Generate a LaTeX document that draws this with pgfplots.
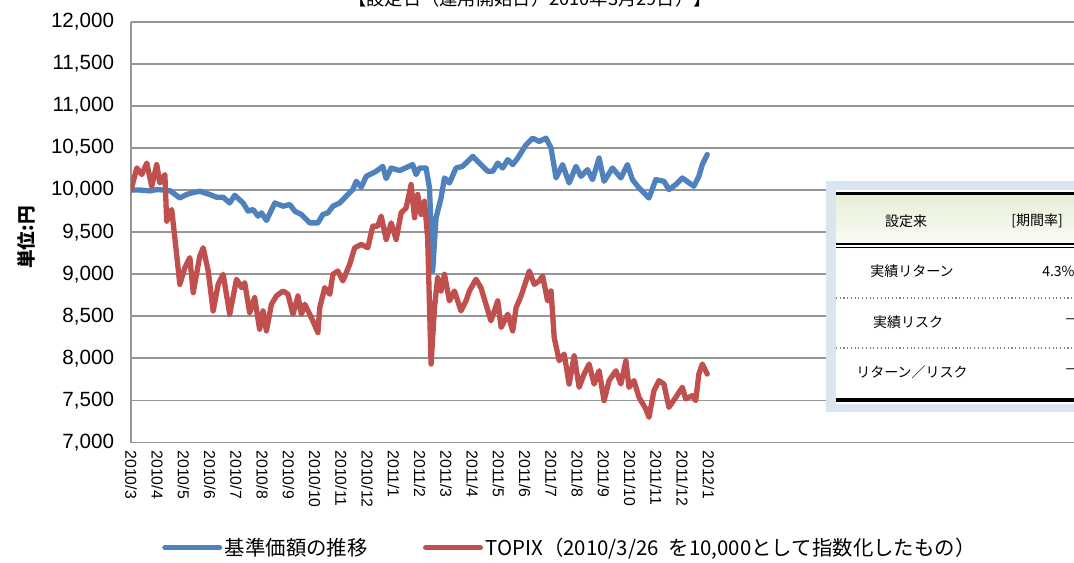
\documentclass[border=0pt]{standalone}
\usepackage{fontspec}
\setmainfont{Liberation Sans}
\newfontfamily\cjk{Noto Sans CJK JP}
\usepackage{pgfplots}
\pgfplotsset{compat=1.18}
\usepackage{pgfplotstable}

\definecolor{navblue}{RGB}{79,129,189}
\definecolor{topixred}{RGB}{192,80,77}
\definecolor{gridgray}{RGB}{150,150,150}
\definecolor{tblblue}{RGB}{219,229,241}
\definecolor{hdrtop}{RGB}{231,239,215}
\definecolor{hdrbot}{RGB}{249,251,244}

\pgfplotstableread{
m v
0.00 10000
0.34 10000
0.72 9990
0.98 10006
1.48 9994
1.86 9906
2.12 9947
2.31 9966
2.62 9986
3.00 9947
3.26 9915
3.51 9915
3.76 9847
3.95 9938
4.27 9847
4.46 9749
4.65 9769
4.84 9690
4.97 9729
5.16 9639
5.48 9847
5.79 9808
6.05 9828
6.24 9749
6.49 9710
6.81 9610
7.12 9610
7.31 9710
7.50 9729
7.69 9808
7.95 9847
8.20 9927
8.45 10006
8.58 10104
8.77 10033
8.96 10163
9.34 10223
9.59 10282
9.72 10136
9.91 10262
10.23 10231
10.73 10302
10.86 10184
10.99 10262
11.24 10262
11.37 10025
11.49 9038
11.62 9670
11.81 9906
11.94 10144
12.13 10084
12.38 10262
12.63 10282
13.02 10400
13.33 10302
13.59 10223
13.78 10223
13.97 10321
14.16 10262
14.35 10361
14.54 10302
14.73 10380
15.05 10539
15.30 10617
15.55 10578
15.81 10617
16.00 10499
16.19 10144
16.44 10302
16.69 10084
16.95 10282
17.14 10163
17.39 10243
17.58 10124
17.83 10380
18.02 10104
18.34 10262
18.66 10144
18.91 10302
19.10 10124
19.35 10025
19.73 9906
19.99 10124
20.30 10104
20.49 10006
20.75 10065
21.00 10144
21.44 10045
21.63 10163
21.76 10302
21.95 10421
}\navdata

\pgfplotstableread{
m v
0.00 10000
0.22 10262
0.41 10184
0.60 10321
0.79 10045
0.98 10302
1.10 10084
1.29 10184
1.36 9630
1.55 9769
1.67 9433
1.86 8880
2.05 9077
2.24 9196
2.37 8781
2.62 9216
2.75 9314
2.94 9038
3.13 8564
3.32 8880
3.51 8999
3.76 8525
4.02 8940
4.21 8840
4.33 8899
4.52 8544
4.71 8722
4.90 8347
5.03 8564
5.16 8327
5.35 8643
5.54 8742
5.79 8801
5.98 8762
6.17 8525
6.36 8742
6.49 8525
6.62 8643
6.87 8485
7.12 8307
7.19 8603
7.38 8840
7.57 8762
7.69 8999
7.88 9038
8.07 8920
8.33 9117
8.52 9314
8.77 9354
9.02 9314
9.21 9571
9.40 9571
9.53 9690
9.72 9413
9.91 9610
10.10 9413
10.29 9729
10.48 9788
10.67 10065
10.80 9670
10.92 9947
11.05 9710
11.18 9867
11.30 9433
11.43 7933
11.56 8603
11.68 8959
11.81 8801
11.94 8999
12.13 8683
12.32 8801
12.57 8564
12.76 8683
12.89 8801
13.14 8940
13.33 8840
13.52 8643
13.71 8446
13.97 8683
14.10 8367
14.35 8525
14.54 8327
14.67 8603
14.86 8742
15.17 9038
15.36 8880
15.55 8920
15.68 8979
15.87 8683
16.00 8801
16.12 8248
16.31 7972
16.50 8051
16.69 7695
16.88 8031
17.07 7656
17.26 7814
17.45 7933
17.64 7695
17.83 7853
18.02 7498
18.21 7735
18.47 7853
18.66 7695
18.85 7972
18.97 7656
19.16 7735
19.35 7537
19.61 7399
19.73 7300
19.92 7616
20.11 7735
20.30 7695
20.49 7418
20.75 7537
21.00 7656
21.13 7518
21.38 7557
21.51 7498
21.63 7814
21.76 7933
21.95 7814
}\topixdata

\begin{document}
\begin{tikzpicture}
\useasboundingbox (0,0) rectangle (805.5pt,-422.25pt);
\clip (0,0) rectangle (805.5pt,-422.25pt);
\begin{axis}[
  at={(98.25pt,-331.9pt)}, anchor=south west,
  scale only axis, width=707.25pt, height=315.6pt,
  xmin=0, xmax=35.92, ymin=7000, ymax=12000,
  ytick={7000,7500,...,12000},
  xtick={0,...,22},
  xticklabels={2010/3,2010/4,2010/5,2010/6,2010/7,2010/8,2010/9,2010/10,2010/11,2010/12,2011/1,2011/2,2011/3,2011/4,2011/5,2011/6,2011/7,2011/8,2011/9,2011/10,2011/11,2011/12,2012/1},
  scaled y ticks=false,
  /pgf/number format/1000 sep={,},
  /pgf/number format/assume math mode=true,
  ymajorgrids, grid style={gridgray, line width=1.4pt},
  axis line style={draw=none},
  major tick length=0pt,
  extra x ticks={0}, extra x tick labels={},
  extra x tick style={grid=major, grid style={gridgray, line width=1.4pt}},
  yticklabel style={font=\fontsize{15.45}{18}\selectfont, anchor=east},
  yticklabel shift=9.2pt,
  xticklabel style={font=\fontsize{11.85}{14}\selectfont, rotate=-90, anchor=west},
  xticklabel shift=2.5pt,
  legend columns=2,
  legend cell align=left,
  legend image code/.code={\draw[#1, line cap=round] (0pt,0pt) -- (41pt,0pt);},
  legend style={draw=none, fill=none, at={(0.0286,-0.2497)}, anchor=west,
    font=\cjk\fontsize{15.3}{17}\selectfont,
    /tikz/every even column/.append style={column sep=39.5pt}},
]
\addplot[navblue, line width=4pt, line join=round, line cap=round] table[x=m, y=v] {\navdata};
\addlegendentry{基準価額の推移}
\addplot[topixred, line width=4pt, line join=round, line cap=round] table[x=m, y=v] {\topixdata};
\addlegendentry{TOPIX（2010/3/26\hspace{0.5em}を10,000として指数化したもの）}
\end{axis}

\begin{scope}[x=0.75pt, y=-0.75pt]
  % title (cut at top)
  \node[font=\cjk\fontsize{13.7}{16}\selectfont, anchor=base] at (530,5.5) {【設定日（運用開始日）2010年3月29日）】};
  % y label
  \node[font=\cjk\bfseries\fontsize{14}{16}\selectfont, rotate=90] at (26,237.5) {単位:円};
  % table
  \fill[tblblue] (826,181) rectangle (1110,412);
  \fill[white] (836,190) rectangle (1110,404);
  \shade[top color=hdrtop, bottom color=hdrbot] (836,195) rectangle (1110,243);
  \draw[line width=2.3pt] (836,193.5) -- (1110,193.5);
  \draw[line width=1.1pt] (836,243.8) -- (1110,243.8);
  \draw[line width=1.1pt] (836,247.6) -- (1110,247.6);
  \draw[gray, dotted, line width=0.8pt] (836,298) -- (1110,298);
  \draw[gray, dotted, line width=0.8pt] (836,348) -- (1110,348);
  \draw[line width=2.3pt] (836,400) -- (1110,400);
  \begin{scope}[every node/.style={font=\cjk\fontsize{10.5}{12}\selectfont, inner sep=0pt}]
    \node at (906,221) {設定来};
    \node at (1037,221) {[期間率]};
    \node at (912,271) {実績リターン};
    \node[anchor=west] at (1042,271) {4.3\%};
    \node at (908,322) {実績リスク};
    \node[anchor=west] at (1064,322) {－};
    \node at (912,372) {リターン／リスク};
    \node[anchor=west] at (1064,372) {－};
  \end{scope}
\end{scope}
\end{tikzpicture}
\end{document}
